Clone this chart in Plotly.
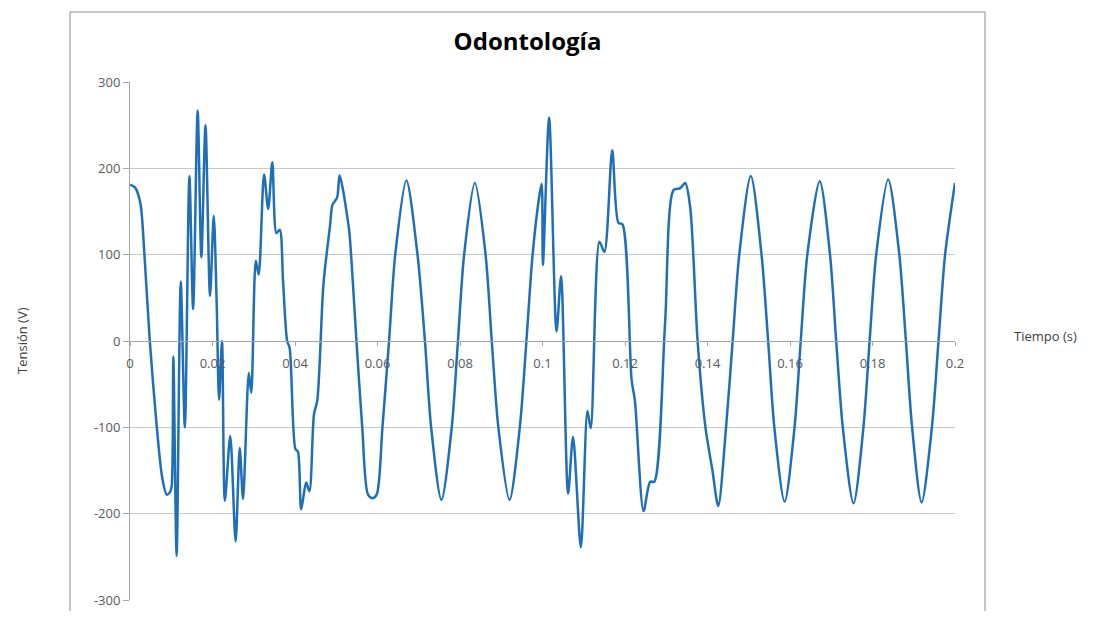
import plotly.graph_objects as go

# Time (s) and voltage (V)
tiempo = [
    0.0, 0.0012, 0.0025, 0.0035, 0.0048, 0.0065, 0.0078, 0.0089, 0.0097, 0.0101,
    0.0105, 0.0113, 0.0123, 0.0133, 0.0144, 0.0153, 0.0164, 0.0173, 0.0183, 0.0194,
    0.0203, 0.0210, 0.0216, 0.0223, 0.0230, 0.0243, 0.0256, 0.0266, 0.0274, 0.0288,
    0.0294, 0.0305, 0.0312, 0.0325, 0.0335, 0.0345, 0.0355, 0.0363, 0.0371, 0.0381,
    0.0387, 0.0401, 0.0407, 0.0415, 0.0427, 0.0435, 0.0446, 0.0454, 0.0469, 0.0485,
    0.0491, 0.0502, 0.0508, 0.0516, 0.0526, 0.0532,
    0.0549, 0.0563, 0.0577, 0.0588, 0.0598, 0.0612, 0.0628, 0.0643, 0.0670, 0.0697,
    0.0715, 0.0730, 0.0755, 0.0780, 0.0795, 0.0810, 0.0836, 0.0862, 0.0877, 0.0893,
    0.0920, 0.0945, 0.0961, 0.0976, 0.0993, 0.0998, 0.1001, 0.1016, 0.1034, 0.1045,
    0.1062, 0.1074, 0.1093, 0.1109, 0.1117, 0.1138, 0.1150, 0.1169, 0.1184, 0.1194,
    0.1216, 0.1224, 0.1245, 0.1261, 0.1271, 0.1297, 0.1318, 0.1334, 0.1346, 0.1358,
    0.1376, 0.1395, 0.1412, 0.1426, 0.1445, 0.1461, 0.1477, 0.1505, 0.1531, 0.1547,
    0.1562, 0.1587, 0.1611, 0.1626, 0.1642, 0.1672, 0.1697, 0.1712, 0.1728, 0.1754,
    0.1778, 0.1793, 0.1809, 0.1838, 0.1865, 0.1881, 0.1896, 0.1919, 0.1944, 0.1960,
    0.1976, 0.2000,
]
tension = [
    181, 178, 160, 100, 0, -100, -158, -178, -175, -168,
    -18, -249, 69, -100, 191, 37, 267, 97, 250, 52,
    145, 46, -68, 0, -185, -110, -232, -124, -183, -37,
    -60, 93, 77, 193, 153, 207, 125, 129, 70, 0,
    -8, -125, -128, -195, -164, -174, -85, -69, 66, 134,
    158, 166, 192, 176, 146, 125,
    0, -100, -178, -182, -178, -100, 0, 100, 186, 100,
    0, -100, -184, -100, 0, 100, 183, 100, 0, -100,
    -184, -100, 0, 100, 170, 182, 88, 259, 11, 75,
    -177, -111, -239, -81, -101, 115, 103, 221, 137, 135,
    -45, -69, -197, -163, -163, 19, 175, 177, 183, 155,
    0, -100, -150, -191, -100, 0, 100, 191, 100, 0,
    -100, -186, -100, 0, 100, 185, 100, 0, -100, -188,
    -100, 0, 100, 187, 100, 0, -100, -187, -100, 0,
    100, 183,
]

x_ticks = [0, 0.02, 0.04, 0.06, 0.08, 0.1, 0.12, 0.14, 0.16, 0.18, 0.2]
x_labels = ["0", "0.02", "0.04", "0.06", "0.08", "0.1", "0.12", "0.14", "0.16", "0.18", "0.2"]
y_ticks = [-300, -200, -100, 0, 100, 200, 300]
y_labels = ["-300", "-200", "-100", "0", "100", "200", "300"]

# The page body has an 8px margin; figure coordinates = reference pixels - 8
OFF = 8
W, H = 1094 - 2 * OFF, 619 - 2 * OFF
L, R, T, B = 130 - OFF, 955 - OFF, 82 - OFF, 600 - OFF  # plot area in figure pixels


def px(xp):
    """reference pixel x -> paper x"""
    return (xp - OFF - L) / (R - L)


def py(yp):
    """reference pixel y -> paper y"""
    return (B - (yp - OFF)) / (B - T)


fig = go.Figure()
fig.add_trace(go.Scatter(
    x=tiempo, y=tension, mode="lines",
    line=dict(color="#1f6fb8", width=2.5, shape="spline", smoothing=0.8),
    showlegend=False, hoverinfo="x+y",
))

font_family = "Open Sans, Liberation Sans, sans-serif"
tick_font = dict(family=font_family, size=13, color="#595959")

fig.update_layout(
    width=W, height=H,
    margin=dict(l=L, r=W - R, t=T, b=H - B, pad=0, autoexpand=False),
    paper_bgcolor="white", plot_bgcolor="white",
    title=dict(text="<b>Odontología</b>", xref="container", yref="container",
               x=(527.5 - OFF) / W, xanchor="center", y=1 - (42 - OFF) / H, yanchor="middle",
               automargin=False,
               font=dict(family=font_family, size=24, color="#000000")),
    xaxis=dict(range=[0, 0.2], tickvals=x_ticks, ticktext=x_labels,
               showgrid=False, zeroline=False, showline=True, linecolor="#a6a6a6",
               linewidth=1, ticks="outside", ticklen=4, tickcolor="#a6a6a6",
               anchor="free", position=0.5, tickfont=tick_font,
               ticklabelstandoff=6, automargin=False),
    yaxis=dict(range=[-300, 300], tickvals=y_ticks, ticktext=y_labels,
               showgrid=True, gridcolor="#c9c9c9", gridwidth=1, zeroline=False,
               showline=True, linecolor="#a6a6a6", linewidth=1, automargin=False,
               ticks="outside", ticklen=6, tickcolor="#a6a6a6", tickfont=tick_font),
    shapes=[dict(type="rect", xref="paper", yref="paper",
                 x0=px(70), x1=px(985), y0=py(618), y1=py(12),
                 line=dict(color="#8c8c8c", width=1), fillcolor="rgba(0,0,0,0)",
                 layer="below")],
    annotations=[
        dict(text="Tiempo (s)", xref="paper", yref="paper", x=px(1045), y=py(336),
             xanchor="center", yanchor="middle", showarrow=False,
             font=dict(family=font_family, size=13, color="#404040")),
        dict(text="Tensión (V)", xref="paper", yref="paper", x=px(22), y=py(340),
             xanchor="center", yanchor="middle", showarrow=False, textangle=-90,
             font=dict(family=font_family, size=13, color="#404040")),
    ],
)

fig.write_html("out.html")
